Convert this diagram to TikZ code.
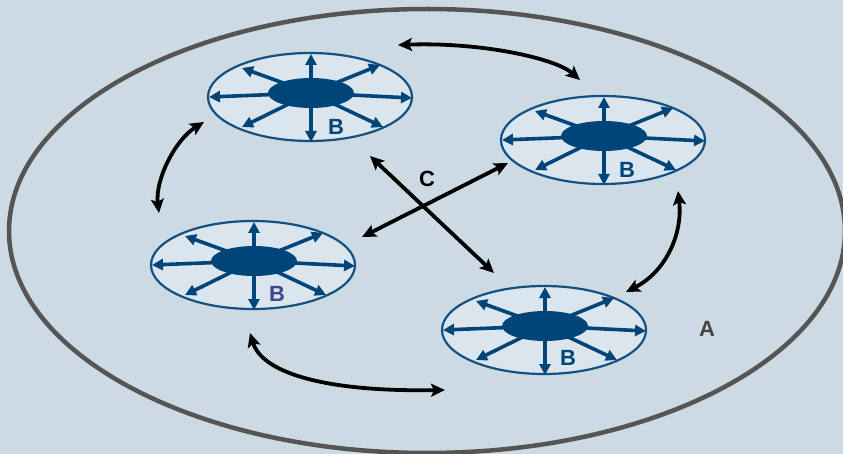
\documentclass[tikz,border=0pt]{standalone}
\usepackage{fontspec}
\setmainfont{Liberation Sans}
\usetikzlibrary{arrows.meta}
\definecolor{bg}{RGB}{204,218,227}
\definecolor{wfill}{RGB}{218,229,237}
\definecolor{wblue}{RGB}{0,69,122}
\definecolor{wedge}{RGB}{20,80,130}
\definecolor{ring}{RGB}{85,85,85}
\definecolor{bpurple}{RGB}{58,72,140}
\definecolor{agrey}{RGB}{68,68,68}
\begin{document}
\begin{tikzpicture}[x=1pt,y=-1pt,
  spoke/.style={wblue, line width=3.6pt, -{Triangle[length=11pt,width=11pt]}},
  link/.style={black, line width=3.8pt, {Stealth[length=14pt,width=13pt,inset=3pt]}-{Stealth[length=14pt,width=13pt,inset=3pt]}},
  lbl/.style={font=\bfseries\fontsize{22}{22}\selectfont, inner sep=0pt},
  wheel/.pic={
    \fill[wfill] (0,0) ellipse [x radius=102, y radius=44];
    \draw[wedge, line width=2.2pt] (0,0) ellipse [x radius=102, y radius=44];
    \coordinate (-c) at (1,-4);
    \foreach \p in {(1,-43),(1,45),(-101,0),(102,1),(-68,-29),(-68,30),(70,-32),(73,30)}
      \draw[spoke] (-c) -- \p;
    \fill[wblue] (-c) ellipse [x radius=43, y radius=15];
  }]
  \fill[bg] (0,0) rectangle (843,454);
  \useasboundingbox (0,0) rectangle (843,454);
  \clip (0,0) rectangle (843,454);
  \draw[ring, line width=4.5pt] (427,231) ellipse [x radius=418, y radius=222];

  \pic (w1) at (310,97) {wheel};
  \pic (w2) at (603,140) {wheel};
  \pic (w3) at (253,265) {wheel};
  \pic (w4) at (544,330) {wheel};

  \node[lbl, wblue]   (b1) at (336,127) {B};
  \node[lbl, wblue]   (b2) at (627,170) {B};
  \node[lbl, bpurple] (b3) at (277,294) {B};
  \node[lbl, wblue]   (b4) at (568,358) {B};

  \node[lbl, black] (c) at (427,179) {C};
  \node[lbl, agrey] (a) at (707,329) {A};

  \coordinate (t1) at (398,45);  \coordinate (t2) at (580,80);
  \coordinate (l1) at (204,122); \coordinate (l2) at (159,213);
  \coordinate (r1) at (678,191); \coordinate (r2) at (626,292);
  \coordinate (d1) at (250,333); \coordinate (d2) at (445,390);
  \coordinate (x1a) at (370,156); \coordinate (x1b) at (494,273);
  \coordinate (x2a) at (508,163); \coordinate (x2b) at (362,237);

  \draw[link] (t1) .. controls (480,42) and (555,58) .. (t2);
  \draw[link] (l1) .. controls (175,140) and (155,180) .. (l2);
  \draw[link] (r1) .. controls (683,235) and (665,272) .. (r2);
  \draw[link] (d1) .. controls (262,372) and (322,392) .. (d2);
  \draw[link] (x1a) -- (x1b);
  \draw[link] (x2a) -- (x2b);
\end{tikzpicture}
\end{document}
